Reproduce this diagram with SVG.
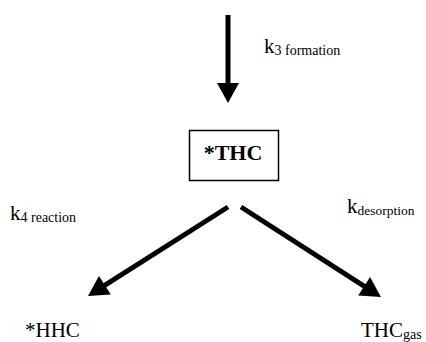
<svg xmlns="http://www.w3.org/2000/svg" width="426" height="342" viewBox="0 0 426 342">
<style>
.c{stroke:#000;stroke-width:5;fill:none}
</style>
<defs>
<marker id="ah" markerUnits="userSpaceOnUse" markerWidth="22" markerHeight="22" refX="4" refY="11" orient="auto" viewBox="0 0 20 22">
<path d="M0,0 L20,11 L0,22 z" fill="#000"/>
</marker>
</defs>
<rect width="426" height="342" fill="#fff"/>
<g id="connectors">
<line class="c" x1="228" y1="15" x2="228" y2="87" marker-end="url(#ah)"/>
<line class="c" x1="228" y1="207" x2="101.5" y2="287.4" marker-end="url(#ah)"/>
<line class="c" x1="241" y1="207" x2="367.5" y2="288.3" marker-end="url(#ah)"/>
</g>
<g id="k3">
<text x="264" y="53" font-family="Liberation Serif" font-size="21">k<tspan font-family="Liberation Serif" font-size="14" dy="2">3 formation</tspan></text>
</g>
<g id="THC">
<rect x="189.5" y="130.5" width="89" height="50" fill="none" stroke="#000" stroke-width="1.5"/>
<text x="233" y="160" font-family="Liberation Serif" font-size="22" font-weight="bold" text-anchor="middle">*THC</text>
</g>
<g id="k4">
<text x="10" y="220" font-family="Liberation Serif" font-size="21">k<tspan font-family="Liberation Serif" font-size="14" dy="2">4 reaction</tspan></text>
</g>
<g id="kdes">
<text x="347" y="213" font-family="Liberation Serif" font-size="21">k<tspan font-family="Liberation Serif" font-size="13.5" dy="2">desorption</tspan></text>
</g>
<g id="HHC">
<text x="25" y="337" font-family="Liberation Serif" font-size="21">*HHC</text>
</g>
<g id="THCgas">
<text x="361" y="337" font-family="Liberation Serif" font-size="21">THC<tspan font-family="Liberation Serif" font-size="14" dy="2">gas</tspan></text>
</g>
</svg>
